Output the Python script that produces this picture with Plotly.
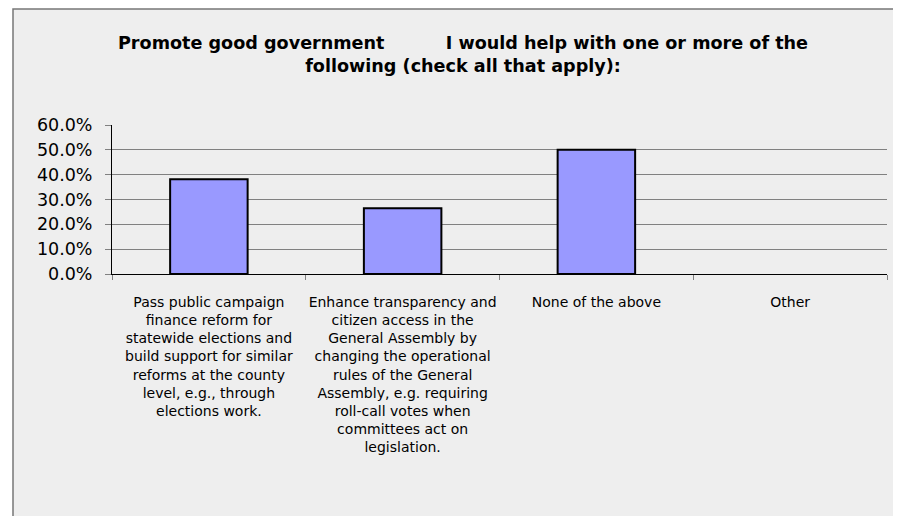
import plotly.graph_objects as go

categories = [
    "Pass public campaign<br>finance reform for<br>statewide elections and<br>build support for similar<br>reforms at the county<br>level, e.g., through<br>elections work.",
    "Enhance transparency and<br>citizen access in the<br>General Assembly by<br>changing the operational<br>rules of the General<br>Assembly, e.g. requiring<br>roll-call votes when<br>committees act on<br>legislation.",
    "None of the above",
    "Other",
]
values = [0.382, 0.265, 0.500, 0.0]
tick_vals = [0, 0.1, 0.2, 0.3, 0.4, 0.5, 0.6]
tick_text = ["0.0%", "10.0%", "20.0%", "30.0%", "40.0%", "50.0%", "60.0%"]

title_text = ("Promote good government" + "\u00a0" * 10 +
              "I would help with one or more of the<br>following (check all that apply):")

# figure is placed at an 8px page offset by the default body margin
W, H = 885, 508
L, R, T, B = 104, 6, 117, 242
PW, PH = W - L - R, H - T - B

outline_w = [0 if v == 0 else 2 for v in values]

fig = go.Figure(go.Bar(
    x=categories, y=values,
    marker=dict(color="#9999ff", line=dict(color="#000000", width=outline_w)),
    width=0.4,
))

fig.update_layout(
    width=W, height=H,
    paper_bgcolor="#ffffff",
    plot_bgcolor="#eeeeee",
    margin=dict(l=L, r=R, t=T, b=B, autoexpand=False),
    font=dict(family="DejaVu Sans", color="#000000"),
    showlegend=False,
    title=dict(text=title_text, x=455 / W, xanchor="center", xref="container",
               y=1 - 41 / H, yanchor="middle", yref="container",
               font=dict(family="DejaVu Sans", size=17.6, color="#000000", weight="bold")),
    shapes=[dict(type="rect", xref="paper", yref="paper", layer="below",
                 x0=(5 - L) / PW, x1=(W + 20 - L) / PW,
                 y0=-(B + 20) / PH, y1=1 + (T - 1) / PH,
                 fillcolor="#eeeeee", line=dict(color="#777777", width=1.5))],
)
fig.update_yaxes(
    range=[0, 0.6], tickvals=tick_vals, ticktext=tick_text,
    showgrid=True, gridcolor="#808080", gridwidth=1,
    showline=True, linecolor="#000000", linewidth=1,
    ticks="outside", ticklen=6, tickcolor="#808080",
    ticklabelstandoff=9,
    tickfont=dict(size=17.5, family="DejaVu Sans", color="#000000"),
    zeroline=False, fixedrange=True,
)
fig.update_xaxes(
    showline=True, linecolor="#000000", linewidth=1,
    ticks="outside", ticklen=5, tickcolor="#808080", tickson="boundaries",
    ticklabelstandoff=15,
    tickfont=dict(size=14, family="DejaVu Sans", color="#000000"),
    tickangle=0, fixedrange=True,
)
fig.write_html("out.html")
